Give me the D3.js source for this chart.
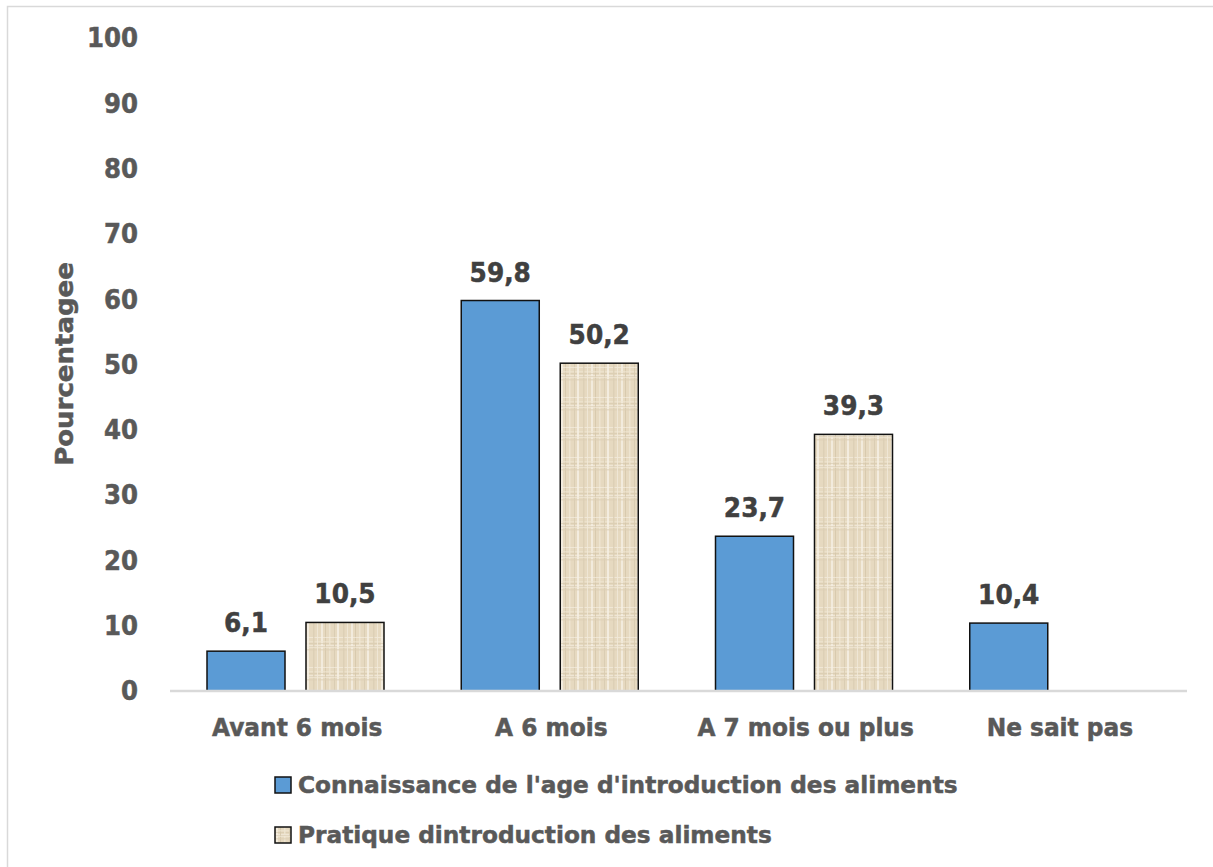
<!DOCTYPE html>
<html>
<head>
<meta charset="utf-8">
<script src="https://cdn.jsdelivr.net/npm/d3@7"></script>
<style>
	body { margin: 0; background: #fff; }
	text { font-family: "DejaVu Sans", sans-serif; font-weight: bold; fill: #595959; stroke: #595959; stroke-width: 0.5px; }
</style>
</head>
<body>
<div class="bar-chart"></div>
<script>
var categories = ["Avant 6 mois", "A 6 mois", "A 7 mois ou plus", "Ne sait pas"];
var seriesNames = ["Connaissance de l'age d'introduction des aliments", "Pratique dintroduction des aliments"];
var connaissance = [6.1, 59.8, 23.7, 10.4];
var pratique = [10.5, 50.2, 39.3, null];
var yTicks = [0, 10, 20, 30, 40, 50, 60, 70, 80, 90, 100];

var W = 1213, H = 867;
var margin = { top: 38, right: 26, bottom: 176, left: 170 },
	width = W - margin.left - margin.right,
	height = H - margin.top - margin.bottom;

// narrow the DejaVu glyphs a little to get closer to the original face
function squeeze(sel, k) {
	sel.each(function () {
		var len = this.getComputedTextLength();
		d3.select(this).attr("textLength", len * k).attr("lengthAdjust", "spacingAndGlyphs");
	});
}

var svg = d3.select(".bar-chart").append("svg")
	.attr("width", W)
	.attr("height", H);

// linen texture for the second series
var defs = svg.append("defs");
var pat = defs.append("pattern")
	.attr("id", "linen")
	.attr("patternUnits", "userSpaceOnUse")
	.attr("width", 30)
	.attr("height", 30);
pat.append("rect").attr("width", 30).attr("height", 30).attr("fill", "#e6d9c0");
[[1, "#f5efe2", 2], [5, "#d6c8ab", 1], [9, "#efe6d2", 1.5], [14, "#d9cbb0", 1], [17, "#f6f0e4", 2], [23, "#dccfb4", 1.5], [27, "#f1e9d8", 1]].forEach(function (p) {
	pat.append("rect").attr("x", p[0]).attr("y", 0).attr("width", p[2]).attr("height", 30).attr("fill", p[1]).attr("opacity", 0.85);
	pat.append("rect").attr("x", 0).attr("y", (p[0] * 7) % 30).attr("width", 30).attr("height", p[2]).attr("fill", p[1]).attr("opacity", 0.6);
});

// outer border
svg.append("rect")
	.attr("x", 7.5).attr("y", 6.5)
	.attr("width", W).attr("height", H)
	.attr("fill", "none")
	.attr("stroke", "#d9d9d9")
	.attr("stroke-width", 1.5);

var g = svg.append("g")
	.attr("transform", "translate(" + margin.left + "," + margin.top + ")");

var x = d3.scaleBand().domain(categories).range([0, width]);
var x1 = d3.scaleBand().domain([0, 1]).range([37, 214]).paddingInner(0.212);
var y = d3.scaleLinear().domain([0, 100]).range([height, 0]);

// y tick labels
g.selectAll(".ytick")
	.data(yTicks)
	.enter().append("text")
	.attr("class", "ytick")
	.attr("x", -32)
	.attr("y", function (d) { return y(d); })
	.attr("dy", "0.36em")
	.style("text-anchor", "end")
	.style("font-size", "26px")
	.text(function (d) { return d; })
	.call(squeeze, 0.94);

// axis title
g.append("text")
	.attr("transform", "translate(" + (-97) + "," + 326 + ") rotate(-90)")
	.style("text-anchor", "middle")
	.style("font-size", "25px")
	.text("Pourcentagee")
	.call(squeeze, 1.04);

var series = [
	{ values: connaissance, fill: "#5b9bd5" },
	{ values: pratique, fill: "url(#linen)" }
];

series.forEach(function (s, si) {
	var data = categories.map(function (c, i) { return { cat: c, v: s.values[i] }; })
		.filter(function (d) { return d.v != null; });

	g.selectAll(".bar" + si)
		.data(data)
		.enter().append("rect")
		.attr("class", "bar" + si)
		.attr("x", function (d) { return x(d.cat) + x1(si); })
		.attr("y", function (d) { return y(d.v); })
		.attr("width", x1.bandwidth())
		.attr("height", function (d) { return y(0) - y(d.v); })
		.attr("fill", s.fill)
		.attr("stroke", "#111")
		.attr("stroke-width", 1.5);

	g.selectAll(".lbl" + si)
		.data(data)
		.enter().append("text")
		.attr("class", "lbl" + si)
		.attr("x", function (d) { return x(d.cat) + x1(si) + x1.bandwidth() / 2; })
		.attr("y", function (d) { return y(d.v) - 19; })
		.style("text-anchor", "middle")
		.style("font-size", "27px")
		.style("fill", "#404040")
		.style("stroke", "#404040")
		.text(function (d) { return d3.format(".1f")(d.v).replace(".", ","); })
		.call(squeeze, 0.92);
});

// baseline
g.append("line")
	.attr("x1", 0).attr("x2", width)
	.attr("y1", y(0)).attr("y2", y(0))
	.attr("stroke", "#d9d9d9")
	.attr("stroke-width", 2.5);

// category labels
g.selectAll(".xlbl")
	.data(categories)
	.enter().append("text")
	.attr("class", "xlbl")
	.attr("x", function (d) { return x(d) + x.bandwidth() / 2; })
	.attr("y", y(0) + 45)
	.style("text-anchor", "middle")
	.style("font-size", "24px")
	.text(function (d) { return d; })
	.call(squeeze, 0.97);

// legend
var legend = svg.selectAll(".legend")
	.data(series)
	.enter().append("g")
	.attr("class", "legend")
	.attr("transform", function (d, i) { return "translate(275," + (777 + i * 50) + ")"; });

legend.append("rect")
	.attr("width", 16).attr("height", 16)
	.attr("fill", function (d) { return d.fill; })
	.attr("stroke", "#111")
	.attr("stroke-width", 1.5);

legend.append("text")
	.attr("x", 23)
	.attr("y", 16)
	.style("font-size", "23px")
	.text(function (d, i) { return seriesNames[i]; })
	.call(squeeze, 1.01);
</script>
</body>
</html>
